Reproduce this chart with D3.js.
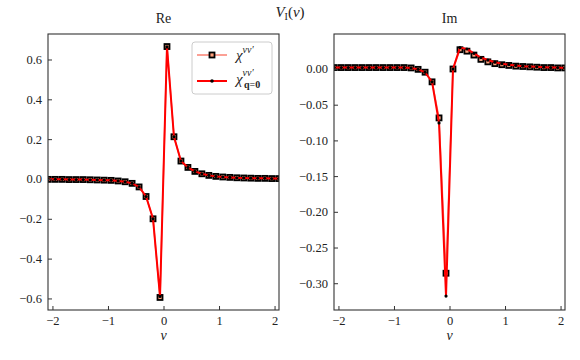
<!DOCTYPE html>
<html>
<head>
<meta charset="utf-8">
<script src="https://cdn.jsdelivr.net/npm/d3@7"></script>
<style>
  body { margin: 0; background: #fff; }
  svg { display: block; font-family: "Liberation Serif", "DejaVu Serif", serif; }
</style>
</head>
<body>
<div id="chart"></div>
<script>
// Matsubara frequencies on the x axis
const NU = [
  -2.0735, -1.9478, -1.8221, -1.6965, -1.5708, -1.4451, -1.3195, -1.1938, -1.0681,
  -0.9425, -0.8168, -0.6912, -0.5655, -0.4398, -0.3142, -0.1885, -0.0628,
  0.0628, 0.1885, 0.3142, 0.4398, 0.5655, 0.6912, 0.8168, 0.9425, 1.0681,
  1.1938, 1.3195, 1.4451, 1.5708, 1.6965, 1.8221, 1.9478, 2.0735
];

const RE_CHI = [
  -0.002, -0.002, -0.002, -0.003, -0.003, -0.003, -0.004, -0.005, -0.006,
  -0.007, -0.010, -0.014, -0.022, -0.040, -0.088, -0.200, -0.595,
  0.665, 0.212, 0.090, 0.058, 0.038, 0.026, 0.018, 0.013, 0.010,
  0.008, 0.006, 0.005, 0.004, 0.003, 0.003, 0.002, 0.002
];
const RE_CHI_Q0 = [
  -0.002, -0.002, -0.002, -0.003, -0.003, -0.003, -0.004, -0.005, -0.006,
  -0.007, -0.010, -0.014, -0.022, -0.040, -0.088, -0.200, -0.590,
  0.663, 0.212, 0.090, 0.058, 0.038, 0.026, 0.018, 0.013, 0.010,
  0.008, 0.006, 0.005, 0.004, 0.003, 0.003, 0.002, 0.002
];

const IM_CHI = [
  0.002, 0.002, 0.002, 0.002, 0.002, 0.002, 0.002, 0.002, 0.002,
  0.002, 0.002, 0.0015, -0.0005, -0.0045, -0.018, -0.0685, -0.286,
  0.000, 0.027, 0.025, 0.0195, 0.0135, 0.010, 0.0075, 0.006, 0.005,
  0.004, 0.0035, 0.003, 0.0025, 0.002, 0.002, 0.0015, 0.0015
];
const IM_CHI_Q0 = [
  0.002, 0.002, 0.002, 0.002, 0.002, 0.002, 0.002, 0.002, 0.002,
  0.002, 0.002, 0.0015, -0.0005, -0.0045, -0.018, -0.0755, -0.318,
  0.000, 0.030, 0.028, 0.022, 0.016, 0.0125, 0.0095, 0.0075, 0.006,
  0.005, 0.004, 0.0035, 0.003, 0.0025, 0.002, 0.002, 0.0015
];

const X_TICKS = [-2, -1, 0, 1, 2];
const RE_TICKS = [-0.6, -0.4, -0.2, 0.0, 0.2, 0.4, 0.6];
const IM_TICKS = [-0.30, -0.25, -0.20, -0.15, -0.10, -0.05, 0.00];

const COLORS = { chi: "#fa8072", chiFill: "#ffa07a", q0: "#ff0000", ink: "#222", spine: "#333" };
const SERIF = '"Liberation Serif", "DejaVu Serif", serif';

const W = 580, H = 360;
const TOP = 34, BOTTOM = 310;
const SQ = 5;

const svg = d3.select("#chart").append("svg")
  .attr("width", W).attr("height", H)
  .attr("viewBox", [0, 0, W, H]);

function styleAxis(a) {
  a.select(".domain").remove();
  a.selectAll(".tick line").attr("stroke", COLORS.spine);
  a.selectAll(".tick text")
    .style("font-family", SERIF).style("font-size", "12.5px").attr("fill", COLORS.ink);
}

function panel({ left, right, yDomain, yTicks, yFormat, chi, chiQ0, title, id, legend }) {
  const x = d3.scaleLinear().domain([-2.08, 2.08]).range([left, right]);
  const y = d3.scaleLinear().domain(yDomain).range([BOTTOM, TOP]);
  const g = svg.append("g");

  g.append("clipPath").attr("id", id)
    .append("rect").attr("x", left).attr("y", TOP)
    .attr("width", right - left).attr("height", BOTTOM - TOP);

  const plot = g.append("g").attr("clip-path", `url(#${id})`);
  const line = d3.line().x((d, i) => x(NU[i])).y(d => y(d));

  plot.append("path").datum(chi)
    .attr("d", line).attr("fill", "none")
    .attr("stroke", COLORS.chi).attr("stroke-width", 1.5);
  plot.selectAll("rect.sq").data(chi).join("rect")
    .attr("class", "sq")
    .attr("x", (d, i) => x(NU[i]) - SQ / 2).attr("y", d => y(d) - SQ / 2)
    .attr("width", SQ).attr("height", SQ)
    .attr("fill", COLORS.chiFill).attr("stroke", "#000").attr("stroke-width", 1.8);

  plot.append("path").datum(chiQ0)
    .attr("d", line).attr("fill", "none")
    .attr("stroke", COLORS.q0).attr("stroke-width", 2);
  plot.selectAll("circle.dot").data(chiQ0).join("circle")
    .attr("class", "dot")
    .attr("cx", (d, i) => x(NU[i])).attr("cy", d => y(d))
    .attr("r", 1.6).attr("fill", "#000");

  g.append("g")
    .attr("transform", `translate(0,${BOTTOM})`)
    .call(d3.axisBottom(x).tickValues(X_TICKS).tickSize(-4).tickPadding(6).tickFormat(d3.format("d")))
    .call(styleAxis);

  g.append("g")
    .attr("transform", `translate(${left},0)`)
    .call(d3.axisLeft(y).tickValues(yTicks).tickSize(-4).tickPadding(6).tickFormat(yFormat))
    .call(styleAxis);

  g.append("rect")
    .attr("x", left).attr("y", TOP)
    .attr("width", right - left).attr("height", BOTTOM - TOP)
    .attr("fill", "none").attr("stroke", COLORS.spine).attr("stroke-width", 1.1);

  g.append("text")
    .attr("x", (left + right) / 2).attr("y", 23)
    .attr("text-anchor", "middle").attr("font-size", 14).attr("fill", COLORS.ink)
    .text(title);

  g.append("text")
    .attr("x", (left + right) / 2).attr("y", 340)
    .attr("text-anchor", "middle").attr("font-size", 14).attr("font-style", "italic")
    .attr("fill", COLORS.ink)
    .text("ν");

  if (legend) drawLegend(g);
}

function drawLegend(g) {
  const lx = 192, ly = 42;
  g.append("rect")
    .attr("x", lx).attr("y", ly).attr("width", 80).attr("height", 52).attr("rx", 3)
    .attr("fill", "#fff").attr("fill-opacity", 0.8)
    .attr("stroke", "#ccc").attr("stroke-width", 1);

  // entry 1
  g.append("line").attr("x1", lx + 5).attr("x2", lx + 35).attr("y1", ly + 13).attr("y2", ly + 13)
    .attr("stroke", COLORS.chi).attr("stroke-width", 1.5);
  g.append("rect").attr("x", lx + 20 - SQ / 2).attr("y", ly + 13 - SQ / 2).attr("width", SQ).attr("height", SQ)
    .attr("fill", COLORS.chiFill).attr("stroke", "#000").attr("stroke-width", 1.8);
  const t1 = g.append("text").attr("x", lx + 44).attr("y", ly + 18)
    .attr("font-size", 15).attr("fill", COLORS.ink);
  t1.append("tspan").attr("font-style", "italic").text("χ");
  t1.append("tspan").attr("dy", -7).attr("font-size", 10).attr("font-style", "italic").text("νν′");

  // entry 2
  g.append("line").attr("x1", lx + 5).attr("x2", lx + 35).attr("y1", ly + 39).attr("y2", ly + 39)
    .attr("stroke", COLORS.q0).attr("stroke-width", 2);
  g.append("circle").attr("cx", lx + 20).attr("cy", ly + 39).attr("r", 1.8).attr("fill", "#000");
  const t2 = g.append("text").attr("x", lx + 44).attr("y", ly + 42)
    .attr("font-size", 15).attr("fill", COLORS.ink);
  t2.append("tspan").attr("font-style", "italic").text("χ");
  t2.append("tspan").attr("dy", -8).attr("font-size", 10).attr("font-style", "italic").text("νν′");
  t2.append("tspan").attr("x", lx + 52).attr("dy", 12).attr("font-size", 10).attr("font-weight", "bold").text("q");
  t2.append("tspan").attr("font-size", 10).text("=");
  t2.append("tspan").attr("font-size", 10).attr("font-weight", "bold").text("0");
}

panel({
  left: 48, right: 279,
  yDomain: [-0.658, 0.728], yTicks: RE_TICKS, yFormat: d3.format(".1f"),
  chi: RE_CHI, chiQ0: RE_CHI_Q0, title: "Re", id: "clipRe", legend: true
});

panel({
  left: 334, right: 565,
  yDomain: [-0.3375, 0.049], yTicks: IM_TICKS, yFormat: d3.format(".2f"),
  chi: IM_CHI, chiQ0: IM_CHI_Q0, title: "Im", id: "clipIm", legend: false
});

const sup = svg.append("text")
  .attr("x", 290).attr("y", 17)
  .attr("text-anchor", "middle").attr("font-size", 15).attr("fill", COLORS.ink);
sup.append("tspan").attr("font-style", "italic").text("V");
sup.append("tspan").attr("dy", 3).attr("font-size", 10).text("I");
sup.append("tspan").attr("dy", -3).text("(");
sup.append("tspan").attr("font-style", "italic").text("ν");
sup.append("tspan").text(")");
</script>
</body>
</html>
